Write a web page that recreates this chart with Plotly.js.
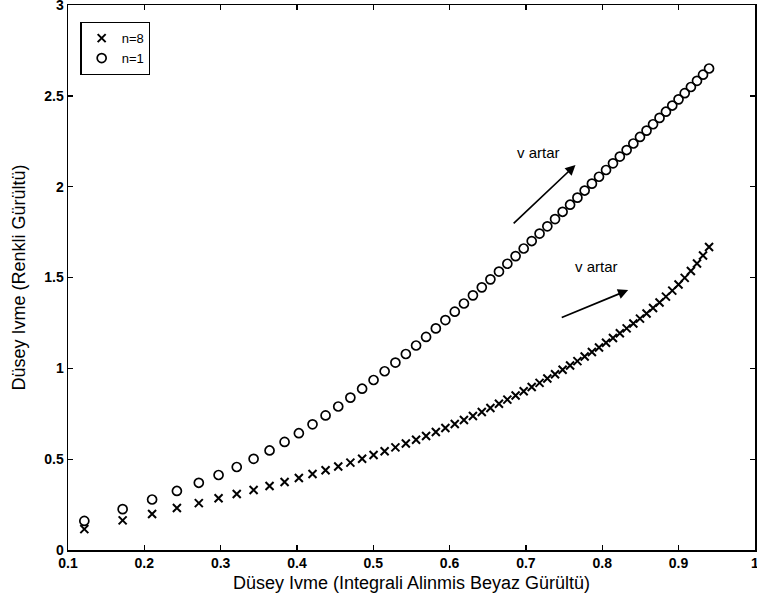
<!DOCTYPE html>
<html>
<head>
<meta charset="utf-8">
<script src="https://cdn.plot.ly/plotly-3.0.1.min.js"></script>
<style>html,body{margin:0;padding:0;background:#fff;}#chart{width:757px;height:607px;}</style>
</head>
<body>
<div id="chart"></div>
<script>
// x values (integrated white noise vertical acceleration)
const xVals = [0.1214,0.1716,0.2102,0.2427,0.2714,0.2973,0.3211,0.3432,0.3641,0.3838,
  0.4025,0.4204,0.4375,0.4541,0.4700,0.4854,0.5004,0.5149,0.5290,0.5427,
  0.5561,0.5692,0.5820,0.5945,0.6068,0.6188,0.6306,0.6422,0.6535,0.6647,
  0.6757,0.6865,0.6971,0.7076,0.7179,0.7281,0.7382,0.7481,0.7579,0.7675,
  0.7770,0.7865,0.7958,0.8050,0.8141,0.8231,0.8320,0.8408,0.8495,0.8581,
  0.8666,0.8751,0.8835,0.8918,0.9000,0.9081,0.9162,0.9242,0.9321,0.9400];
// n=8 series (crosses)
const yN8 = [0.115,0.163,0.198,0.231,0.258,0.285,0.308,0.330,0.352,0.374,
  0.396,0.418,0.439,0.460,0.481,0.502,0.523,0.544,0.565,0.586,
  0.607,0.628,0.650,0.672,0.694,0.716,0.738,0.760,0.782,0.805,
  0.828,0.851,0.874,0.897,0.920,0.944,0.968,0.992,1.016,1.040,
  1.065,1.090,1.115,1.141,1.167,1.193,1.220,1.247,1.274,1.302,
  1.332,1.363,1.395,1.428,1.462,1.498,1.536,1.577,1.621,1.668];
// n=1 series (circles)
const yN1 = [0.160,0.225,0.278,0.325,0.370,0.413,0.457,0.502,0.548,0.595,
  0.643,0.692,0.741,0.790,0.839,0.888,0.936,0.984,1.032,1.079,
  1.126,1.173,1.220,1.266,1.312,1.357,1.402,1.446,1.490,1.533,
  1.576,1.618,1.660,1.701,1.742,1.782,1.822,1.862,1.901,1.940,
  1.979,2.017,2.055,2.092,2.129,2.166,2.202,2.238,2.274,2.309,
  2.344,2.379,2.413,2.447,2.481,2.515,2.549,2.583,2.617,2.651];
const xTicks = [0.1,0.2,0.3,0.4,0.5,0.6,0.7,0.8,0.9,1];
const xTickText = ['0.1','0.2','0.3','0.4','0.5','0.6','0.7','0.8','0.9','1'];
const yTicks = [0,0.5,1,1.5,2,2.5,3];
const yTickText = ['0','0.5','1','1.5','2','2.5','3'];
const seriesNames = ['n=8','n=1'];
const annText = 'v artar';

const FONT = '"Liberation Sans", Arial, Helvetica, sans-serif';

const traces = [
  {x: xVals, y: yN8, mode: 'markers', type: 'scatter', name: seriesNames[0],
   marker: {symbol: 'x-thin-open', size: 8, color: '#000', line: {color: '#000', width: 2}}},
  {x: xVals, y: yN1, mode: 'markers', type: 'scatter', name: seriesNames[1],
   marker: {symbol: 'circle-open', size: 9, color: '#000', line: {color: '#000', width: 1.7}}}
];

const axisCommon = {
  showgrid: false, zeroline: false, showline: true, mirror: 'ticks',
  linecolor: '#000', linewidth: 1.5, ticks: 'inside', ticklen: 5, tickwidth: 1.3,
  tickcolor: '#000', ticklabeloverflow: 'allow',
  tickfont: {family: FONT, size: 14, color: '#000', weight: 'bold'}
};

const layout = {
  width: 757, height: 607,
  margin: {l: 68, r: 2, t: 5, b: 57},
  paper_bgcolor: '#fff', plot_bgcolor: '#fff',
  font: {family: FONT, color: '#000'},
  showlegend: true,
  legend: {x: 0.018, y: 0.969, xanchor: 'left', yanchor: 'top',
    bgcolor: '#fff', bordercolor: '#000', borderwidth: 1.3,
    font: {family: FONT, size: 13, color: '#000'}, tracegroupgap: 0, itemwidth: 30},
  xaxis: Object.assign({}, axisCommon, {range: [0.1, 1.0002], tickvals: xTicks, ticktext: xTickText,
    title: {text: 'Düsey Ivme (Integrali Alinmis Beyaz Gürültü)', font: {family: FONT, size: 18, color: '#000'}, standoff: 6}}),
  yaxis: Object.assign({}, axisCommon, {range: [0, 3.0005], tickvals: yTicks, ticktext: yTickText,
    title: {text: 'Düsey Ivme (Renkli Gürültü)', font: {family: FONT, size: 18, color: '#000'}, standoff: 14}}),
  annotations: [
    {x: 0.716, y: 2.19, xref: 'x', yref: 'y', text: annText, showarrow: false,
     font: {family: FONT, size: 15, color: '#000'}},
    {x: 0.765, y: 2.12, ax: 0.682, ay: 1.79, xref: 'x', yref: 'y', axref: 'x', ayref: 'y',
     text: '', showarrow: true, arrowhead: 2, arrowsize: 1.2, arrowwidth: 1.7, arrowcolor: '#000'},
    {x: 0.792, y: 1.563, xref: 'x', yref: 'y', text: annText, showarrow: false,
     font: {family: FONT, size: 15, color: '#000'}},
    {x: 0.834, y: 1.431, ax: 0.745, ay: 1.277, xref: 'x', yref: 'y', axref: 'x', ayref: 'y',
     text: '', showarrow: true, arrowhead: 2, arrowsize: 1.2, arrowwidth: 1.7, arrowcolor: '#000'}
  ]
};

Plotly.newPlot('chart', traces, layout, {displayModeBar: false, staticPlot: true});
</script>
</body>
</html>
